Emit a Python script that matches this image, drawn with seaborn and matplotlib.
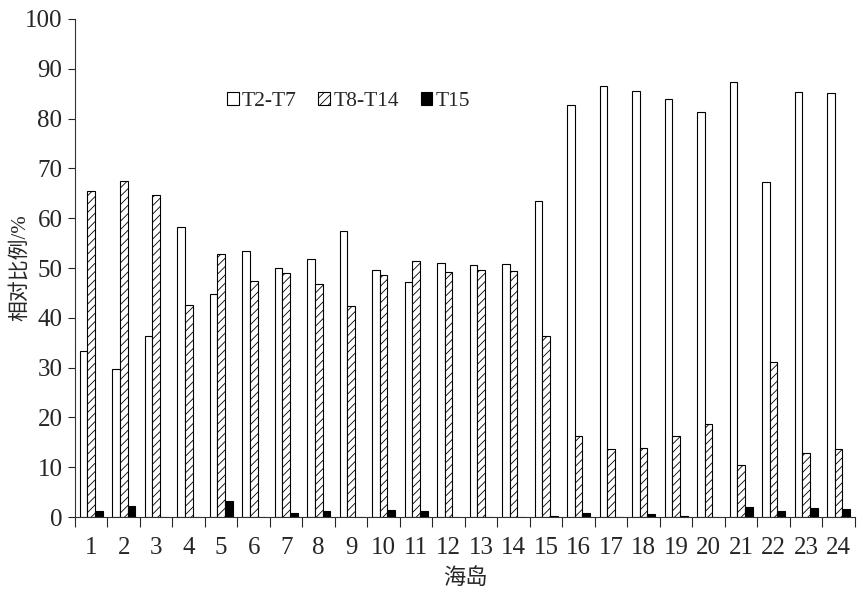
"""海岛相对比例柱状图。"""

import matplotlib
matplotlib.use("Agg")
import matplotlib.pyplot as plt
from matplotlib.patches import Patch
import numpy as np
import pandas as pd
import seaborn as sns

islands = list(range(1, 25))
t2_t7 = [33.3, 29.8, 36.4, 58.2, 44.8, 53.4, 50.1, 51.9, 57.5, 49.6, 47.2, 51.0,
         50.6, 50.9, 63.4, 82.8, 86.6, 85.6, 84.0, 81.4, 87.3, 67.2, 85.4, 85.2]
t8_t14 = [65.5, 67.5, 64.6, 42.6, 52.8, 47.3, 49.1, 46.7, 42.3, 48.6, 51.5, 49.3,
          49.7, 49.4, 36.4, 16.3, 13.6, 13.8, 16.2, 18.7, 10.5, 31.2, 12.8, 13.6]
t15 = [1.3, 2.3, 0.0, 0.0, 3.2, 0.0, 0.8, 1.2, 0.0, 1.5, 1.2, 0.0,
       0.0, 0.0, 0.3, 0.8, 0.0, 0.6, 0.3, 0.0, 2.1, 1.2, 1.9, 1.6]
groups = ["T2-T7", "T8-T14", "T15"]
y_ticks = list(range(0, 101, 10))

df = pd.DataFrame({
    "海岛": islands * 3,
    "比例": t2_t7 + t8_t14 + t15,
    "组": [g for g in groups for _ in islands],
})

sns.set_theme(style="ticks")
plt.rcParams["font.family"] = ["Liberation Serif", "Noto Sans CJK SC", "DejaVu Sans"]
plt.rcParams["hatch.linewidth"] = 0.6
plt.rcParams["hatch.color"] = "#444444"

fig = plt.figure(figsize=(8.58, 5.91), dpi=100)
ax = fig.add_axes([0.0874, 0.125, 0.909, 0.843])

palette = {"T2-T7": "white", "T8-T14": "white", "T15": "black"}
sns.barplot(data=df, x="海岛", y="比例", hue="组", hue_order=groups,
            palette=palette, edgecolor="black", linewidth=0.8, width=0.7,
            saturation=1, ax=ax, legend=False)
for bar in ax.containers[1]:
    bar.set_hatch("////")

ax.set_ylim(0, 100)
ax.set_xlim(-0.5, 23.5)
ax.set_yticks(y_ticks)
ax.set_xticks(np.arange(len(islands)))
ax.set_xticklabels([str(i) for i in islands])
ax.set_xticks(np.arange(-0.5, len(islands), 1), minor=True)
ax.tick_params(axis="x", which="major", length=0, pad=14, labelsize=18)
ax.tick_params(axis="x", which="minor", length=7, width=0.8, direction="out")
ax.tick_params(axis="y", length=5, width=0.8, direction="out", pad=4, labelsize=18)
for s in ["top", "right"]:
    ax.spines[s].set_visible(False)
for s in ["left", "bottom"]:
    ax.spines[s].set_linewidth(0.8)
    ax.spines[s].set_color("#333333")

ax.set_xlabel("海岛", fontsize=16)
ax.set_ylabel("相对比例/%", fontsize=15)
ax.xaxis.set_label_coords(0.5, -0.102)
ax.yaxis.set_label_coords(-0.058, 0.5)

handles = [
    Patch(facecolor="white", edgecolor="black", linewidth=0.8),
    Patch(facecolor="white", edgecolor="black", linewidth=0.8, hatch="////"),
    Patch(facecolor="black", edgecolor="black", linewidth=0.8),
]
ax.legend(handles, groups, loc="center left", bbox_to_anchor=(0.17, 0.835),
          ncol=3, frameon=False, fontsize=15.5, handlelength=0.55, handleheight=0.55,
          handletextpad=0.15, columnspacing=1.0)

fig.savefig("out.png", dpi=100)
